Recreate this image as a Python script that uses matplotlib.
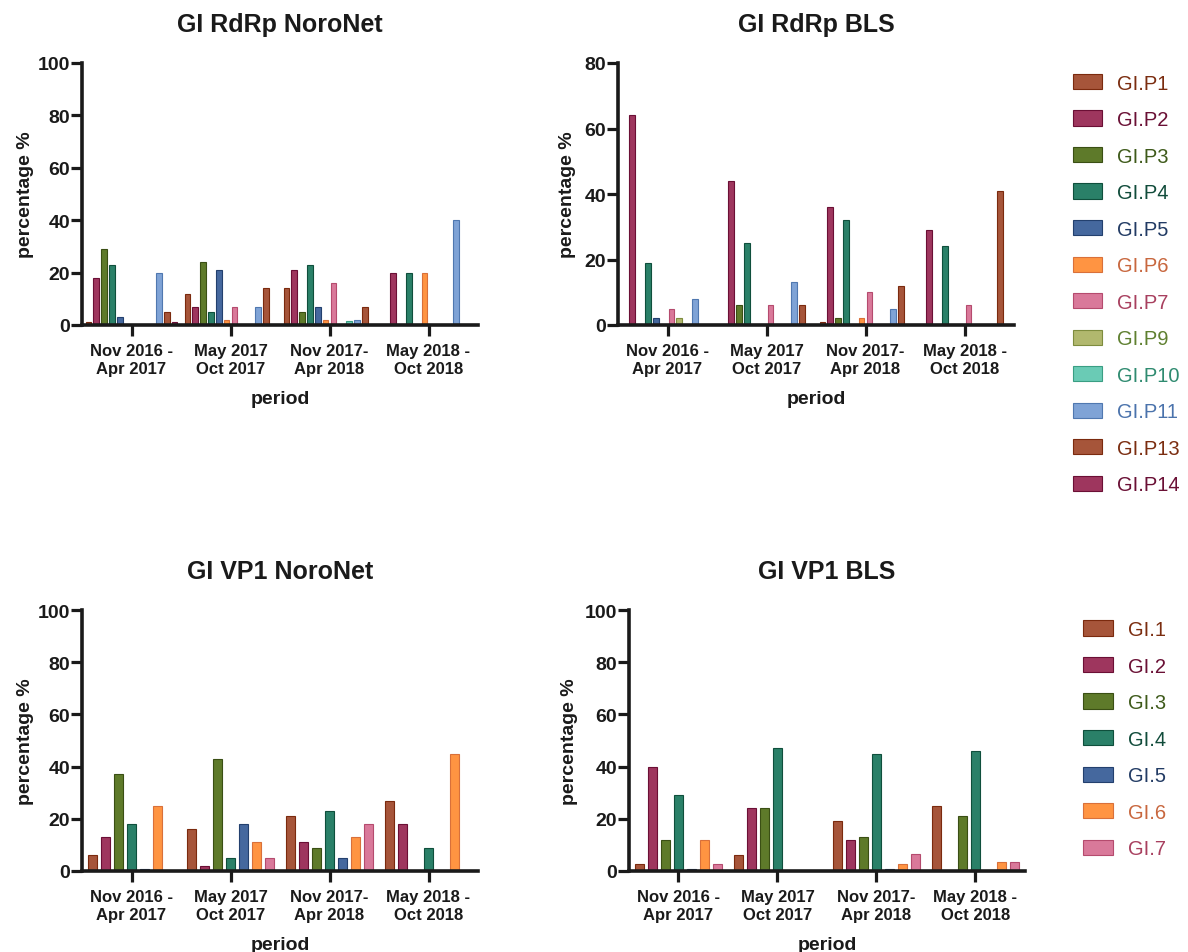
# GI norovirus genotype distribution per period, RdRp (top) and VP1 (bottom)
import numpy as np
import matplotlib
matplotlib.use("Agg")
import matplotlib.pyplot as plt
from matplotlib.transforms import ScaledTranslation

plt.rcParams['font.family'] = ['Liberation Sans', 'DejaVu Sans']

periods = ["Nov 2016 -\nApr 2017", "May 2017\nOct 2017",
           "Nov 2017-\nApr 2018", "May 2018 -\nOct 2018"]

# P-types (RdRp), one list per type, values for the four periods
rdrp_types = ["GI.P1", "GI.P2", "GI.P3", "GI.P4", "GI.P5", "GI.P6",
              "GI.P7", "GI.P9", "GI.P10", "GI.P11", "GI.P13", "GI.P14"]
rdrp_noronet = [
    [1, 12, 14, 0],
    [18, 7, 21, 20],
    [29, 24, 5, 0],
    [23, 5, 23, 20],
    [3, 21, 7, 0],
    [0, 2, 2, 20],
    [0, 7, 16, 0],
    [0, 0, 0, 0],
    [0, 0, 1.5, 0],
    [20, 7, 2, 40],
    [5, 14, 7, 0],
    [1, 0, 0, 0],
]
rdrp_bls = [
    [0, 0, 1, 0],
    [64, 44, 36, 29],
    [0, 6, 2, 0],
    [19, 25, 32, 24],
    [2, 0, 0, 0],
    [0, 0, 2, 0],
    [5, 6, 10, 6],
    [2, 0, 0, 0],
    [0, 0, 0, 0],
    [8, 13, 5, 0],
    [0, 6, 12, 41],
    [0, 0, 0, 0],
]

# genotypes (VP1)
vp1_types = ["GI.1", "GI.2", "GI.3", "GI.4", "GI.5", "GI.6", "GI.7"]
vp1_noronet = [
    [6, 16, 21, 27],
    [13, 2, 11, 18],
    [37, 43, 9, 0],
    [18, 5, 23, 9],
    [0.7, 18, 5, 0],
    [25, 11, 13, 45],
    [0, 5, 18, 0],
]
vp1_bls = [
    [2.6, 6, 19, 25],
    [40, 24, 12, 0],
    [12, 24, 13, 21],
    [29, 47, 45, 46],
    [0.7, 0, 0.7, 0],
    [12, 0, 2.6, 3.6],
    [2.6, 0, 6.7, 3.6],
]

# colours: brown, maroon, olive, teal, blue, orange, pink, khaki, mint, light blue
fill = {"1": "#a6553a", "2": "#9e365e", "3": "#5e7a2a", "4": "#2a8068",
        "5": "#45689e", "6": "#ff9442", "7": "#d9799a", "9": "#b1b86e",
        "10": "#6acbb5", "11": "#7fa3d6", "13": "#a6553a", "14": "#9e365e"}
edge = {"1": "#7b2a0e", "2": "#6b0f35", "3": "#3a4f14", "4": "#0f4f3c",
        "5": "#23406e", "6": "#d9703a", "7": "#b54b6e", "9": "#7e8c3e",
        "10": "#3a9e83", "11": "#5078b0", "13": "#7b2a0e", "14": "#6b0f35"}
txt = {"1": "#7b2d10", "2": "#6a1035", "3": "#3e5a1a", "4": "#114c3b",
       "5": "#223b64", "6": "#c8673e", "7": "#a8405f", "9": "#5f8030",
       "10": "#2f8b70", "11": "#4b73ac", "13": "#7b2d10", "14": "#6a1035"}

def key(name):
    return name.split(".")[1].lstrip("P")

dark = "#1a1a1a"
W, H = 1188, 953
fig = plt.figure(figsize=(W / 100, H / 100), dpi=100)

def px_axes(left, top, right, bottom):
    return fig.add_axes([left / W, 1 - bottom / H, (right - left) / W, (bottom - top) / H])

def panel(ax, title, types, values, slot, width, ymax, ylab_x, shifts):
    x = np.arange(len(periods))
    n = len(types)
    handles = []
    for i, (name, vals) in enumerate(zip(types, values)):
        k = key(name)
        h = ax.bar(x + (i - (n - 1) / 2) * slot, vals, width,
                   color=fill[k], edgecolor=edge[k], linewidth=0.8, label=name)
        handles.append(h)
    ax.set_xlim(-0.5, 3.5)
    ax.set_ylim(0, ymax)
    ax.set_yticks(np.arange(0, ymax + 1, 20))
    ax.set_xticks(x)
    ax.set_xticklabels(periods, fontsize=12, fontweight="bold", color=dark,
                       linespacing=1.32)
    for lab, dx in zip(ax.get_xticklabels(), shifts):
        lab.set_transform(lab.get_transform() + ScaledTranslation(dx / 100, 0, fig.dpi_scale_trans))
    for lab in ax.get_yticklabels():
        lab.set_fontsize(14)
        lab.set_fontweight("bold")
        lab.set_color(dark)
    for s in ["top", "right"]:
        ax.spines[s].set_visible(False)
    for s in ["left", "bottom"]:
        ax.spines[s].set_linewidth(2.6)
        ax.spines[s].set_color(dark)
    ax.tick_params(axis="both", direction="out", length=7.7, width=2.3, color=dark)
    ax.tick_params(axis="x", pad=5)
    ax.tick_params(axis="y", pad=1)
    ax.set_title(title, fontsize=18, fontweight="bold", color=dark, pad=23)
    ax.set_ylabel("percentage %", fontsize=14, fontweight="bold", color=dark)
    ax.set_xlabel("period", fontsize=14, fontweight="bold", color=dark)
    ax.yaxis.set_label_coords(ylab_x, 0.5)
    ax.xaxis.set_label_coords(0.5, -0.25)
    return handles

shifts = [-3, -4, -8, -11]
ax1 = px_axes(82, 64, 478, 326)
panel(ax1, "GI RdRp NoroNet", rdrp_types, rdrp_noronet, 0.079, 0.057, 100, -0.12, shifts)
ax2 = px_axes(618, 64, 1014, 326)
h_rdrp = panel(ax2, "GI RdRp BLS", rdrp_types, rdrp_bls, 0.079, 0.057, 80, -0.105, shifts)
ax3 = px_axes(82, 611, 478, 872)
panel(ax3, "GI VP1 NoroNet", vp1_types, vp1_noronet, 0.131, 0.088, 100, -0.12, shifts)
ax4 = px_axes(629, 611, 1025, 872)
h_vp1 = panel(ax4, "GI VP1 BLS", vp1_types, vp1_bls, 0.131, 0.088, 100, -0.13, shifts)

leg_kw = dict(loc="upper left", frameon=False, fontsize=14.5, handlelength=1.47,
              handleheight=0.78, handletextpad=0.75, labelspacing=0.87,
              borderpad=0, borderaxespad=0)
fig.legend(h_rdrp, rdrp_types, bbox_to_anchor=(1072.7 / W, 1 - 74.5 / H),
           labelcolor=[txt[key(t)] for t in rdrp_types], **leg_kw)
fig.legend(h_vp1, vp1_types, bbox_to_anchor=(1083.3 / W, 1 - 621 / H),
           labelcolor=[txt[key(t)] for t in vp1_types], **leg_kw)

fig.savefig("out.png", dpi=100)
